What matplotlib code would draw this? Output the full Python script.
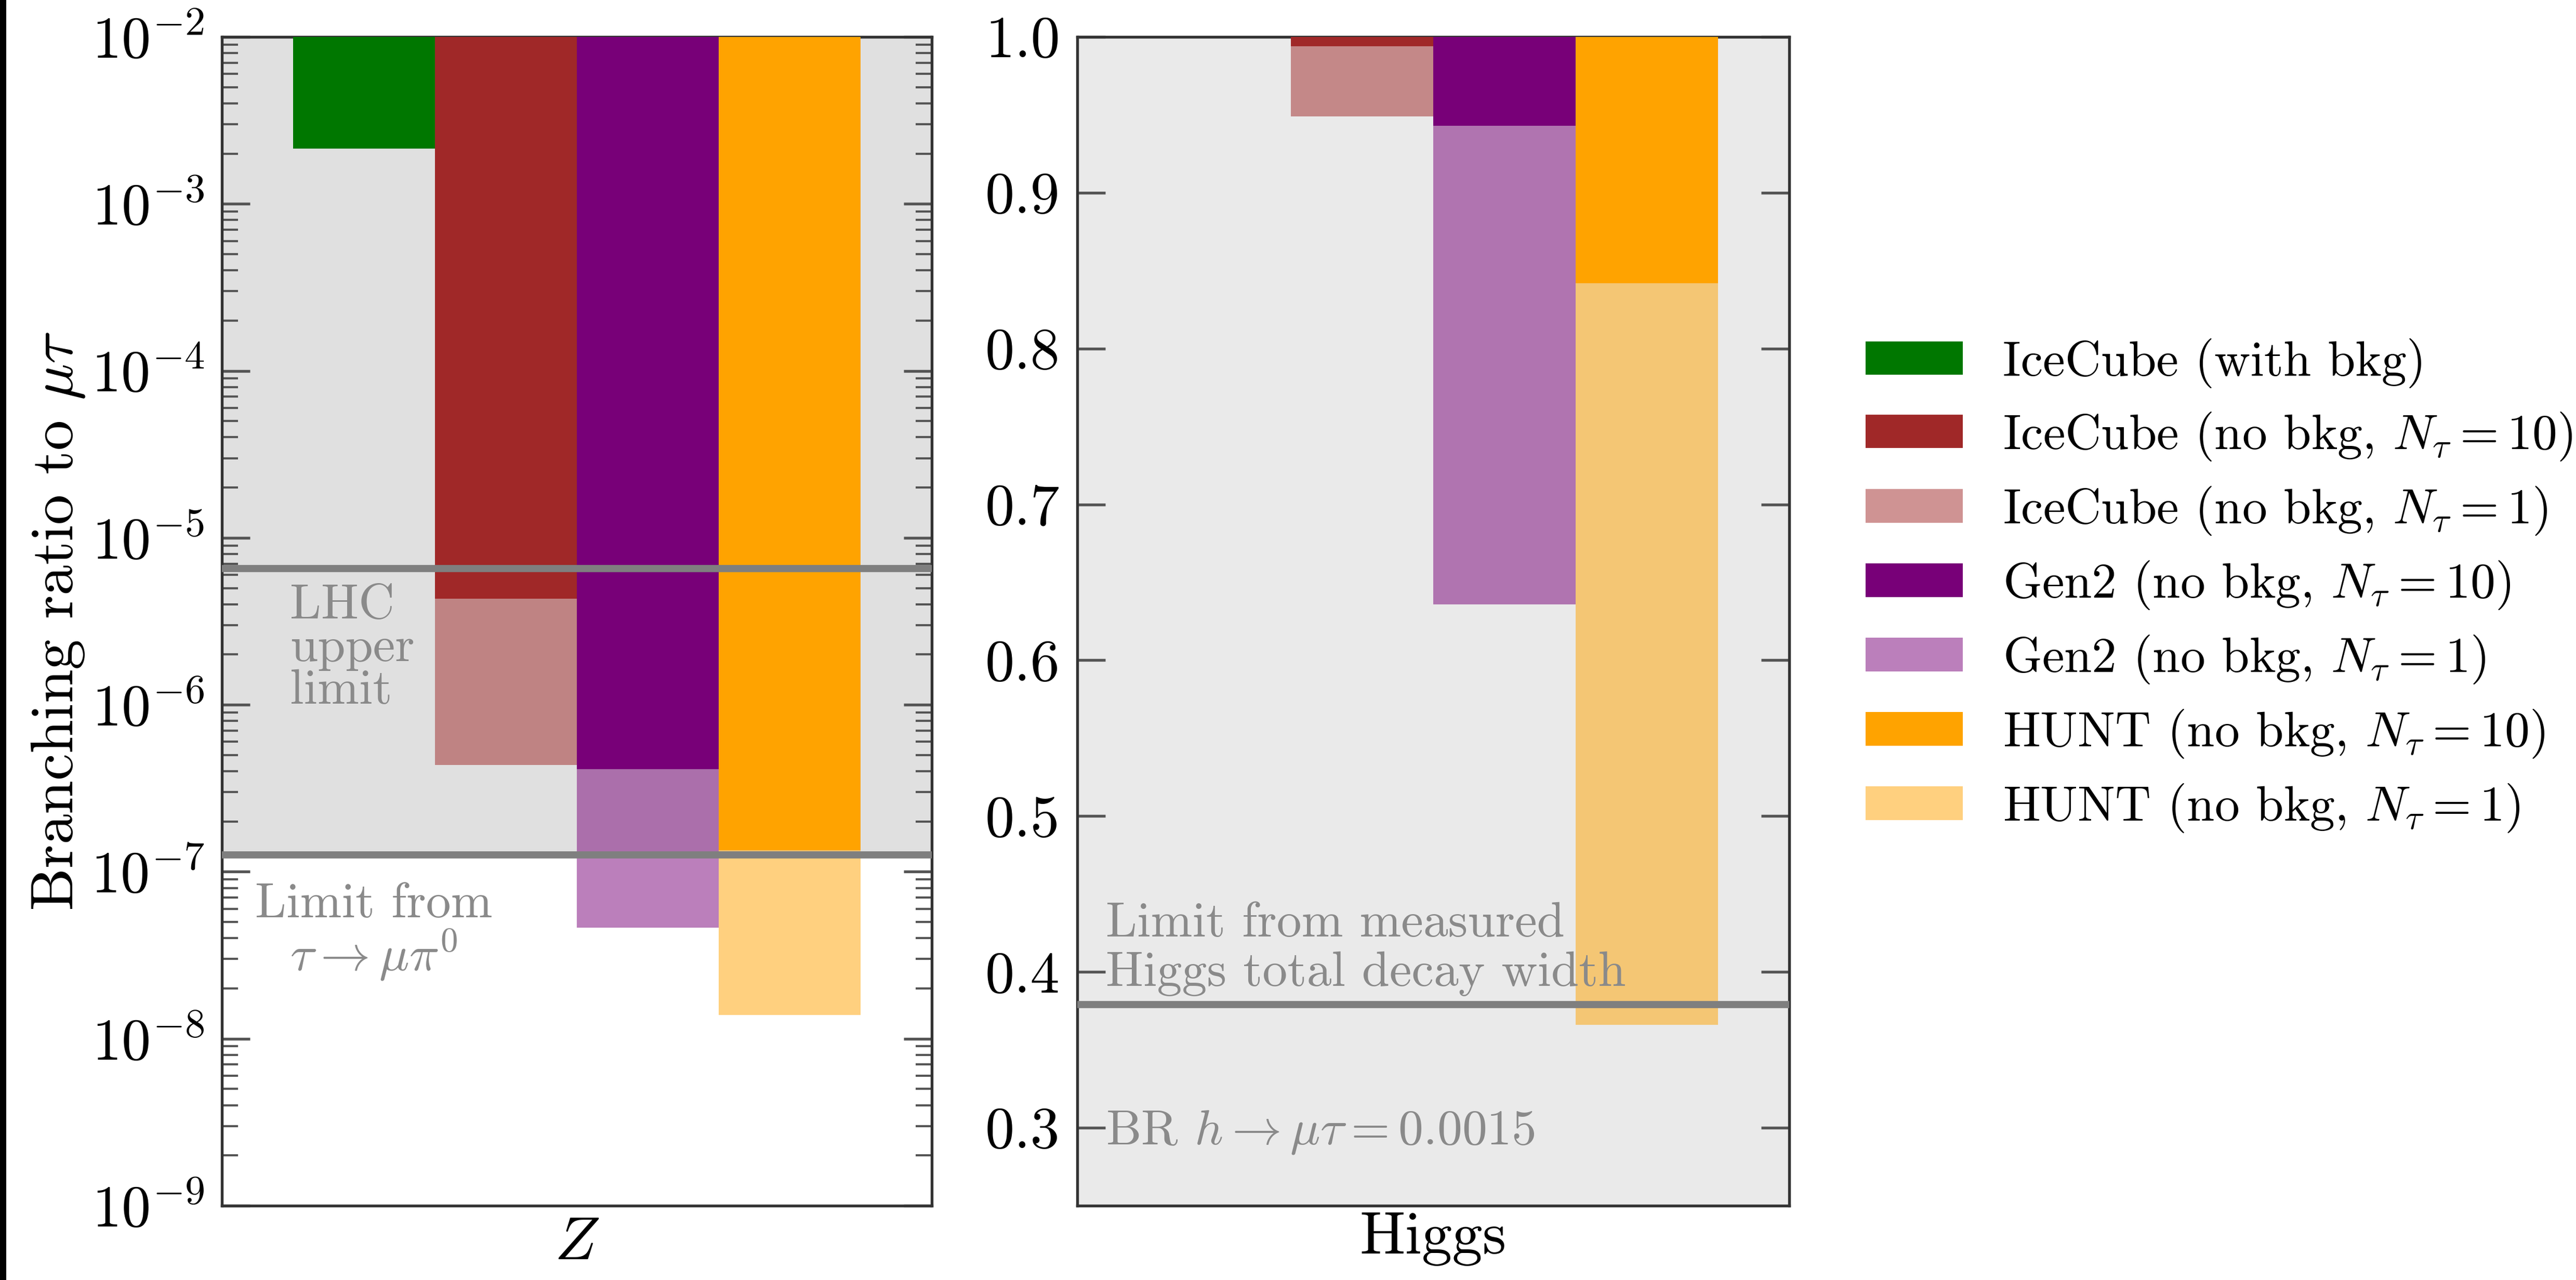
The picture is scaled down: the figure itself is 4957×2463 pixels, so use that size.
import matplotlib
matplotlib.use("Agg")
import matplotlib.pyplot as plt
from matplotlib.patches import Patch, Rectangle

plt.rcParams["font.family"] = "serif"
plt.rcParams["font.serif"] = ["cmr10"]
plt.rcParams["mathtext.fontset"] = "cm"
plt.rcParams["axes.formatter.use_mathtext"] = True

# Experiments, drawn left to right in each panel
experiments = ["IceCube (with bkg)", "IceCube", "Gen2", "HUNT"]
dark_colors = ["#007700", "#a02828", "#780078", "#ffa300"]
light_alpha = 0.5

# Z panel: lower reach of each bar (top is the upper axis limit 1e-2)
z_top = 1e-2
z_n10 = [2.14e-3, 4.32e-6, 4.12e-7, 1.35e-7]
z_n1 = [None, 4.35e-7, 4.62e-8, 1.39e-8]
z_lhc_limit = 6.55e-6
z_tau_limit = 1.26e-7

# Higgs panel
h_top = 1.0
h_n10 = [None, 0.994, 0.943, 0.842]
h_n1 = [None, 0.949, 0.636, 0.366]
h_width_limit = 0.379

legend_labels = [
    "IceCube (with bkg)",
    r"IceCube (no bkg, $N_\tau = 10$)",
    r"IceCube (no bkg, $N_\tau = 1$)",
    r"Gen2 (no bkg, $N_\tau = 10$)",
    r"Gen2 (no bkg, $N_\tau = 1$)",
    r"HUNT (no bkg, $N_\tau = 10$)",
    r"HUNT (no bkg, $N_\tau = 1$)",
]

W, H = 4957, 2463
dpi = 300
fig = plt.figure(figsize=(W / dpi, H / dpi), dpi=dpi)

# dark strip along the left edge of the canvas
fig.patches.append(Rectangle((0, 0), 12 / W, 1, transform=fig.transFigure,
                             facecolor="black", edgecolor="none", zorder=10))

bottom = 1 - 2320 / H
height = (2320 - 71) / H
axZ = fig.add_axes([427 / W, bottom, 1366 / W, height])
axH = fig.add_axes([2073 / W, bottom, 1370 / W, height])

line_gray = "#7f7f7f"
text_gray = "#8a8a8a"
tick_fs = 27
label_fs = 28
note_fs = 23

for ax in (axZ, axH):
    ax.set_xlim(-1, 4)
    ax.set_xticks([])
    for s in ax.spines.values():
        s.set_linewidth(1.3)
        s.set_color("#333333")
    ax.tick_params(axis="y", which="both", direction="in", left=True, right=True,
                   labelsize=tick_fs, color="#555555", pad=8)
    ax.tick_params(axis="y", which="major", length=13, width=1.3)
    ax.tick_params(axis="y", which="minor", length=7.5, width=1.0)


def draw_bars(ax, top, n10, n1):
    for i, (lo10, lo1) in enumerate(zip(n10, n1)):
        c = dark_colors[i]
        if lo1 is not None:
            ax.bar(i, top - lo1, bottom=lo1, width=1.0, color=c, alpha=light_alpha,
                   linewidth=0, zorder=2)
        if lo10 is not None:
            ax.bar(i, top - lo10, bottom=lo10, width=1.0, color=c, linewidth=0, zorder=3)


# Z panel
axZ.set_yscale("log")
axZ.set_ylim(1e-9, z_top)
axZ.axhspan(z_tau_limit, z_top, color="#e0e0e0", zorder=0, linewidth=0)
draw_bars(axZ, z_top, z_n10, z_n1)
axZ.axhline(z_lhc_limit, color=line_gray, lw=3.3, zorder=5)
axZ.axhline(z_tau_limit, color=line_gray, lw=3.3, zorder=5)
axZ.text(-0.52, 5.3e-6, "LHC\nupper\nlimit", color=text_gray, fontsize=note_fs,
         ha="left", va="top", linespacing=0.95, zorder=6)
axZ.text(0.07, 8.6e-8, "Limit from\n" + r"$\tau \to \mu\pi^0$", color=text_gray,
         fontsize=note_fs, ha="center", va="top", multialignment="center",
         linespacing=1.0, zorder=6)
axZ.set_ylabel(r"Branching ratio to $\mu\tau$", fontsize=label_fs)
axZ.yaxis.set_label_coords(-0.19, 0.5)
axZ.set_xlabel(r"$Z$", fontsize=label_fs)
axZ.xaxis.set_label_coords(0.5, -0.01)

# Higgs panel
axH.set_facecolor("#eaeaea")
axH.set_ylim(0.25, h_top)
axH.set_yticks([0.3, 0.4, 0.5, 0.6, 0.7, 0.8, 0.9, 1.0])
axH.set_yticklabels(["0.3", "0.4", "0.5", "0.6", "0.7", "0.8", "0.9", "1.0"])
draw_bars(axH, h_top, h_n10, h_n1)
axH.axhline(h_width_limit, color=line_gray, lw=3.3, zorder=5)
axH.text(-0.8, 0.391, "Limit from measured\nHiggs total decay width", color=text_gray,
         fontsize=note_fs, ha="left", va="baseline", linespacing=1.15, zorder=6)
axH.text(-0.8, 0.2895, r"BR $h \to \mu\tau = 0.0015$", color=text_gray,
         fontsize=note_fs, ha="left", va="baseline", zorder=6)
axH.set_xlabel("Higgs", fontsize=label_fs)
axH.xaxis.set_label_coords(0.5, -0.006)

# Legend
handles = []
for i, c in enumerate(dark_colors):
    handles.append(Patch(facecolor=c, edgecolor="none"))
    if i > 0:
        handles.append(Patch(facecolor=c, alpha=light_alpha, edgecolor="none"))
fig.legend(handles, legend_labels, loc="center left",
           bbox_to_anchor=(3590 / W, 1 - 1128 / H), frameon=False,
           fontsize=note_fs, handlelength=1.95, handleheight=0.66,
           handletextpad=0.8, labelspacing=0.45, borderpad=0, borderaxespad=0)

fig.savefig("out.png", dpi=dpi)
